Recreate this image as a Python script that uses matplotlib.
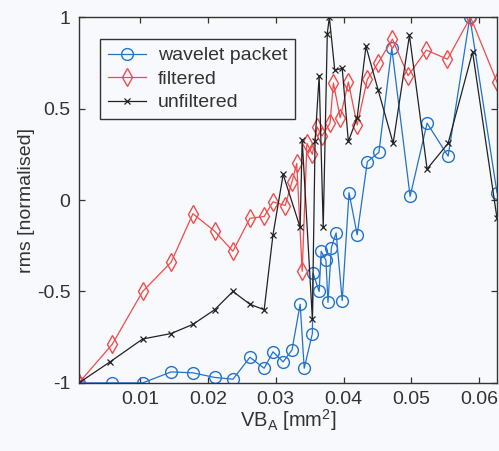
import matplotlib
matplotlib.use("Agg")
import matplotlib.pyplot as plt

# tool wear VB_A [mm^2] and normalised rms for the three signals
x_wp = [0.0010, 0.0059, 0.0104, 0.0146, 0.0178, 0.0210, 0.0237, 0.0262, 0.0283, 0.0296,
        0.0311, 0.0324, 0.0336, 0.0342, 0.0354, 0.0355, 0.0364, 0.0367, 0.0374, 0.0377,
        0.0382, 0.0389, 0.0398, 0.0408, 0.0420, 0.0435, 0.0452, 0.0471, 0.0498, 0.0523,
        0.0554, 0.0586, 0.0626]
y_wp = [-1.00, -1.00, -1.00, -0.94, -0.945, -0.97, -0.98, -0.86, -0.92, -0.83,
        -0.885, -0.82, -0.57, -0.92, -0.73, -0.40, -0.50, -0.28, -0.33, -0.56,
        -0.26, -0.18, -0.55, 0.04, -0.19, 0.21, 0.26, 0.83, 0.02, 0.42,
        0.24, 1.00, 0.04]

x_filt = [0.0010, 0.0059, 0.0104, 0.0146, 0.0178, 0.0210, 0.0237, 0.0262, 0.0283, 0.0296,
          0.0314, 0.0324, 0.0331, 0.0339, 0.0346, 0.0354, 0.0361, 0.0368, 0.0380, 0.0385,
          0.0395, 0.0407, 0.0420, 0.0435, 0.0451, 0.0472, 0.0495, 0.0522, 0.0553, 0.0587,
          0.0626]
y_filt = [-1.00, -0.79, -0.50, -0.34, -0.075, -0.17, -0.28, -0.10, -0.09, -0.01,
          -0.03, 0.10, 0.20, -0.39, 0.31, 0.25, 0.40, 0.35, 0.42, 0.64,
          0.45, 0.645, 0.41, 0.66, 0.75, 0.88, 0.68, 0.82, 0.77, 1.00,
          0.645]

x_unfilt = [0.0010, 0.0056, 0.0104, 0.0146, 0.0178, 0.0210, 0.0237, 0.0262, 0.0283, 0.0296,
            0.0311, 0.0336, 0.0339, 0.0354, 0.0358, 0.0364, 0.0370, 0.0376, 0.0379, 0.0387,
            0.0398, 0.0407, 0.0420, 0.0433, 0.0451, 0.0473, 0.0497, 0.0523, 0.0554, 0.0590,
            0.0626]
y_unfilt = [-1.00, -0.885, -0.76, -0.73, -0.68, -0.60, -0.50, -0.57, -0.60, -0.19,
            0.14, -0.15, 0.33, -0.65, 0.32, 0.68, -0.15, 0.91, 1.00, 0.71,
            0.72, 0.32, 0.45, 0.84, 0.60, 0.31, 0.90, 0.17, 0.31, 0.81,
            -0.10]

xticks = [0.01, 0.02, 0.03, 0.04, 0.05, 0.06]
yticks = [-1, -0.5, 0, 0.5, 1]
ytick_labels = ['-1', '-0.5', '0', '0.5', '1']

plt.rcParams['font.family'] = ['Liberation Sans', 'DejaVu Sans']
plt.rcParams['mathtext.fontset'] = 'custom'
plt.rcParams['mathtext.rm'] = 'Liberation Sans'
plt.rcParams['mathtext.it'] = 'Liberation Sans'

txt = '#333333'
bg = '#f7f9fc'

fig = plt.figure(figsize=(4.99, 4.51), dpi=100, facecolor=bg)
ax = fig.add_axes([0.158, 0.151, 0.838, 0.811], facecolor=bg)

ax.plot(x_wp, y_wp, color='#2273cc', lw=0.9, marker='o', ms=8.5,
        mfc='none', mec='#2273cc', mew=1.0, label='wavelet packet')
ax.plot(x_filt, y_filt, color='#f04c4c', lw=0.9, marker='d', ms=9,
        mfc='none', mec='#f04c4c', mew=1.0, label='filtered')
ax.plot(x_unfilt, y_unfilt, color='#222222', lw=0.9, marker='x', ms=4.5,
        mew=0.9, label='unfiltered')

ax.set_xlim(0.001, 0.0626)
ax.set_ylim(-1, 1)
ax.set_xticks(xticks)
ax.set_xticklabels([f'{t:g}' for t in xticks])
ax.set_yticks(yticks)
ax.set_yticklabels(ytick_labels)

ax.tick_params(direction='in', length=4, width=0.9, top=True, right=True,
               labelsize=14, colors=txt, pad=6)
for s in ax.spines.values():
    s.set_color('#333333')
    s.set_linewidth(1.0)

ax.set_xlabel(r'VB$_\mathrm{A}$ [mm$^2$]', fontsize=14.5, color=txt, labelpad=-1)
ax.set_ylabel('rms [normalised]', fontsize=14, color=txt, labelpad=1)

leg = ax.legend(loc='upper left', bbox_to_anchor=(0.05, 0.94), fontsize=14,
                frameon=True, fancybox=False, handlelength=2.0, handletextpad=0.6,
                borderpad=0.4, labelspacing=0.3, borderaxespad=0)
leg.get_frame().set_edgecolor('#333333')
leg.get_frame().set_linewidth(1.0)
leg.get_frame().set_facecolor(bg)
leg.get_frame().set_alpha(1)
for t in leg.get_texts():
    t.set_color(txt)

fig.savefig('out.png', dpi=100, facecolor=bg)
